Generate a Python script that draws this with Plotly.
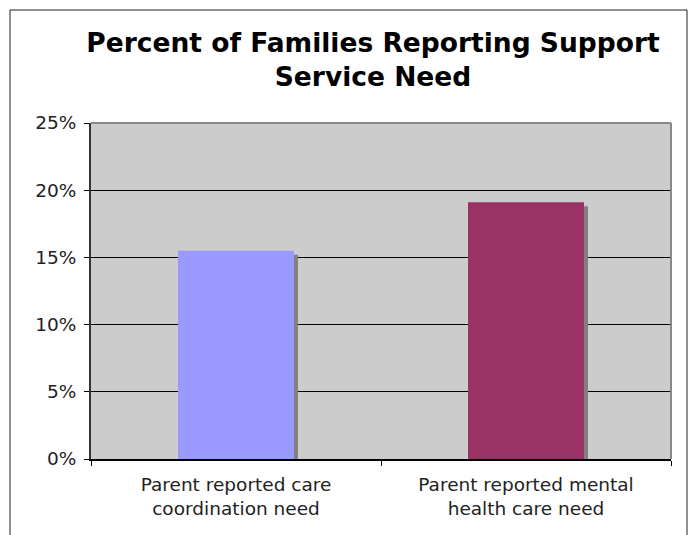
import plotly.graph_objects as go

categories = ["Parent reported care<br>coordination need", "Parent reported mental<br>health care need"]
values = [15.5, 19.1]
bar_colors = ["#9999FF", "#993366"]
y_ticks = [0, 5, 10, 15, 20, 25]
y_tick_labels = [f"{t}%" for t in y_ticks]

W, H = 691, 535
ML, MR, MT, MB = 91, 20, 123, 76
pw, ph = W - ML - MR, H - MT - MB
ymax = 25
bar_w = 0.4
# shadow offset in pixels, converted to data units
sh_px = 4
sh_y = sh_px * ymax / ph
sh_x = sh_px * 1.0 / (pw / len(categories))

fig = go.Figure()
fig.add_trace(go.Bar(
    x=categories, y=[v - sh_y for v in values], width=bar_w,
    offset=-bar_w / 2 + sh_x, marker=dict(color="#808080", line=dict(width=0)),
    hoverinfo="skip", showlegend=False))
fig.add_trace(go.Bar(
    x=categories, y=values, width=bar_w, offset=-bar_w / 2,
    marker=dict(color=bar_colors, line=dict(width=0)), showlegend=False))

fig.update_layout(
    width=W, height=H, barmode="overlay",
    margin=dict(l=ML, r=MR, t=MT, b=MB),
    paper_bgcolor="white", plot_bgcolor="#CCCCCC",
    font=dict(family="DejaVu Sans, Verdana, sans-serif", color="#000000", size=18.5),
    title=dict(text="<b>Percent of Families Reporting Support<br>Service Need</b>",
               x=373 / W, xref="container", xanchor="center",
               y=1 - 52 / H, yref="container", yanchor="top",
               font=dict(size=26.5, family="DejaVu Sans, Verdana, sans-serif", color="#000")),
    xaxis=dict(type="category", tickson="boundaries", ticks="outside", ticklen=5,
               tickcolor="#000", showgrid=False, showline=True, linecolor="#000",
               linewidth=2, tickfont=dict(size=18.5, color="#222"), ticklabelstandoff=8),
    yaxis=dict(range=[0, ymax], tickvals=y_ticks, ticktext=y_tick_labels, ticks="outside",
               ticklen=5, tickcolor="#000", showgrid=True, gridcolor="#000", gridwidth=1,
               showline=True, linecolor="#333", linewidth=2, zeroline=False,
               tickfont=dict(size=18.5, color="#222"), ticklabelstandoff=4),
    shapes=[
        dict(type="line", xref="paper", yref="paper", x0=0, x1=1, y0=1, y1=1,
             line=dict(color="#888888", width=2), layer="above"),
        dict(type="line", xref="paper", yref="paper", x0=1, x1=1, y0=0, y1=1,
             line=dict(color="#888888", width=2), layer="above"),
        dict(type="rect", xref="paper", yref="paper",
             x0=(10 - ML) / pw, x1=(687 - ML) / pw,
             y0=-(H - MT - ph + 40) / ph, y1=(H - MB - 10) / ph,
             line=dict(color="#222222", width=1), layer="above"),
    ],
)

fig.write_html("out.html")
